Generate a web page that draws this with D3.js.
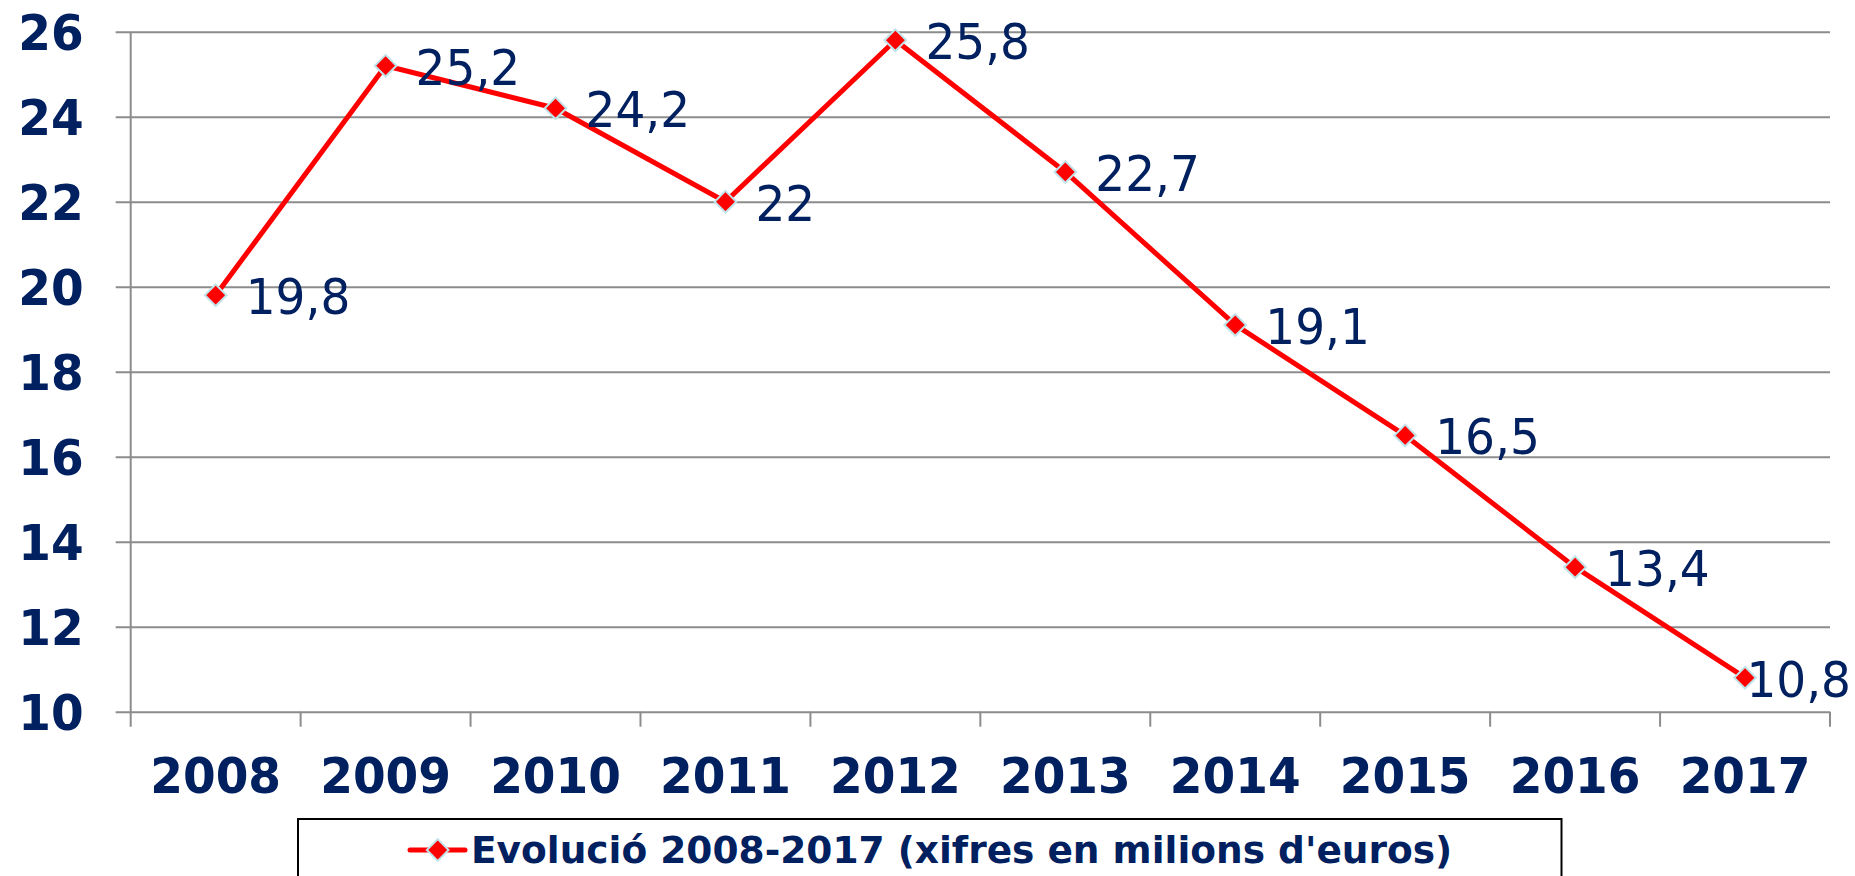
<!DOCTYPE html>
<html>
<head>
<meta charset="utf-8">
<script src="https://cdn.jsdelivr.net/npm/d3@7"></script>
<style>
  html, body { margin: 0; padding: 0; background: #fff; }
  svg { display: block; }
  text { font-family: "DejaVu Sans", Verdana, sans-serif; }
</style>
</head>
<body>
<svg id="chart" width="1855" height="876"></svg>
<script>
const years = ["2008","2009","2010","2011","2012","2013","2014","2015","2016","2017"];
const values = [19.8, 25.2, 24.2, 22, 25.8, 22.7, 19.1, 16.5, 13.4, 10.8];
const yTicks = [10, 12, 14, 16, 18, 20, 22, 24, 26];
const seriesName = "Evolució 2008-2017 (xifres en milions d'euros)";

(function () {
const W = 1855, H = 876;
const navy = "#002060", grid = "#8c8c8c", red = "#ff0000", mark = "#bfe3e8";
const pL = 130.7, pR = 1830, pT = 31.7, pB = 711.7;
const sy = 1.07; // vertical stretch of text in the original

const svg = d3.select("#chart");
const x = d3.scaleBand().domain(years).range([pL, pR]);
const y = d3.scaleLinear().domain([10, 26]).range([pB, pT]);

// gridlines + y ticks
const yAxis = d3.axisLeft(y).tickValues(yTicks).tickSize(-(pR - pL)).tickPadding(0).tickFormat(d3.format("d"));
const gy = svg.append("g").attr("transform", `translate(${pL},0)`).call(yAxis);
gy.select(".domain").remove();
gy.selectAll(".tick line").attr("x1", -15).attr("stroke", grid).attr("stroke-width", 2);
gy.selectAll(".tick text")
  .attr("x", -47).attr("dy", "0.36em")
  .attr("transform", `scale(1,${sy})`)
  .attr("fill", navy).attr("font-size", 47).attr("font-weight", "bold")
  .attr("text-anchor", "end");

// y axis line
svg.append("line").attr("x1", pL).attr("x2", pL).attr("y1", pT).attr("y2", pB + 15)
  .attr("stroke", grid).attr("stroke-width", 2);

// x axis
const xAxis = d3.axisBottom(x).tickSize(0).tickPadding(0);
const gx = svg.append("g").attr("transform", `translate(0,${pB})`).call(xAxis);
gx.select(".domain").remove();
gx.selectAll(".tick line").remove();
gx.selectAll(".tick text")
  .attr("y", 81.6 / sy).attr("dy", 0)
  .attr("transform", `scale(1,${sy})`)
  .attr("fill", navy).attr("font-size", 47).attr("font-weight", "bold");
// category boundary ticks
const bounds = years.map(d => x(d) + x.bandwidth());
svg.append("g").selectAll("line").data(bounds).join("line")
  .attr("x1", d => d).attr("x2", d => d).attr("y1", pB).attr("y2", pB + 15)
  .attr("stroke", grid).attr("stroke-width", 2);

// line
const pts = years.map((d, i) => [x(d) + x.bandwidth() / 2, y(values[i])]);
svg.append("path").datum(pts)
  .attr("d", d3.line())
  .attr("fill", "none").attr("stroke", red).attr("stroke-width", 5).attr("stroke-linejoin", "round");

// markers
const diamond = d3.symbol().type(d3.symbolDiamond2).size(300);
svg.append("g").selectAll("path").data(pts).join("path")
  .attr("transform", d => `translate(${d[0]},${d[1]})`)
  .attr("d", diamond)
  .attr("fill", red).attr("stroke", mark).attr("stroke-width", 2);

// data labels
const fmt = v => String(v).replace(".", ",");
const labels = svg.append("g").selectAll("text").data(pts).join("text")
  .attr("transform", d => `translate(${d[0] + 30},${d[1] + 19}) scale(1,${sy})`)
  .attr("x", 0).attr("y", 0)
  .attr("fill", navy).attr("font-size", 47)
  .text((d, i) => fmt(values[i]));
labels.each(function(d) {
  const bb = this.getBBox();
  if (d[0] + 30 + bb.width > W - 4) {
    d3.select(this).attr("text-anchor", "end")
      .attr("transform", `translate(${W - 4},${d[1] + 19}) scale(1,${sy})`);
  }
});

// legend
const lg = svg.append("g");
lg.append("rect").attr("x", 298).attr("y", 819).attr("width", 1263.5).attr("height", 80)
  .attr("fill", "#fff").attr("stroke", "#000").attr("stroke-width", 2);
lg.append("line").attr("x1", 410).attr("x2", 465).attr("y1", 850).attr("y2", 850)
  .attr("stroke", red).attr("stroke-width", 5).attr("stroke-linecap", "round");
lg.append("path").attr("transform", "translate(437.7,850)").attr("d", diamond)
  .attr("fill", red).attr("stroke", mark).attr("stroke-width", 2);
lg.append("text").attr("x", 471).attr("y", 863)
  .attr("fill", navy).attr("font-size", 37.5).attr("font-weight", "bold")
  .text(seriesName);
})();
</script>
</body>
</html>
